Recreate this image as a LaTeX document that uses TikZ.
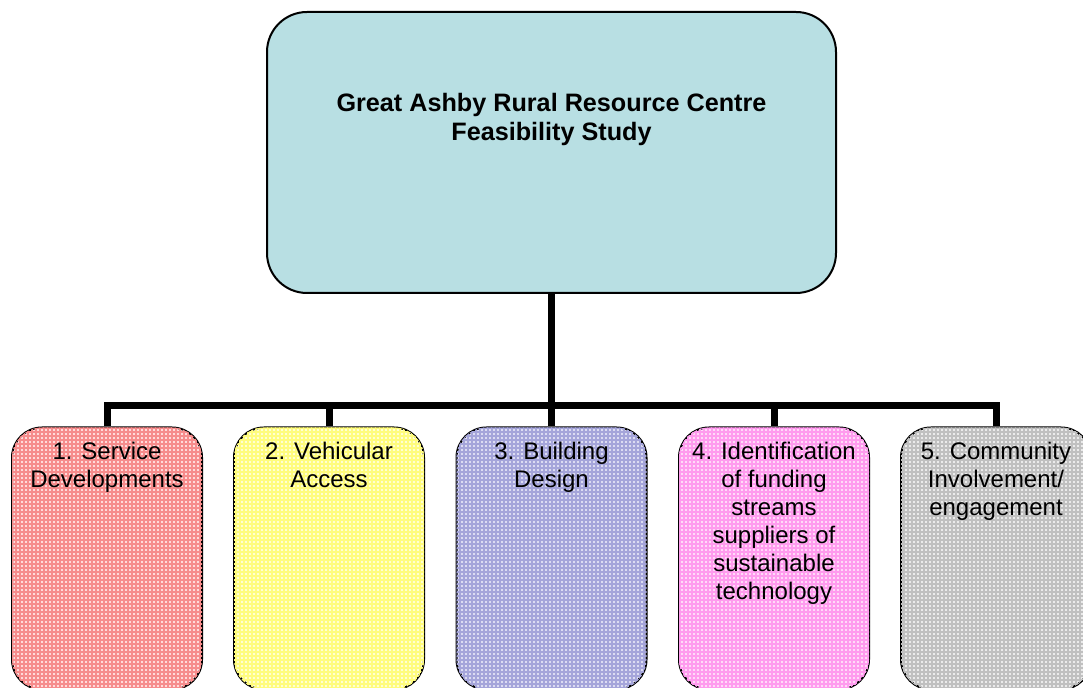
\documentclass[tikz,border=0pt]{standalone}
\usepackage{fontspec}
\setmainfont{Liberation Sans}
\usetikzlibrary{positioning, patterns, calc}

\definecolor{studyblue}{RGB}{184,223,227}
\definecolor{redbase}{RGB}{255,218,218}
\definecolor{redline}{RGB}{246,140,140}
\definecolor{yellowbase}{RGB}{255,255,210}
\definecolor{yellowline}{RGB}{255,252,125}
\definecolor{bluebase}{RGB}{220,220,242}
\definecolor{blueline}{RGB}{165,165,218}
\definecolor{pinkbase}{RGB}{255,218,248}
\definecolor{pinkline}{RGB}{255,155,238}
\definecolor{greybase}{RGB}{235,235,235}
\definecolor{greyline}{RGB}{192,192,192}

\pgfdeclarepatternformonly{finegrid}{\pgfqpoint{-0.5pt}{-0.5pt}}{\pgfqpoint{2pt}{2pt}}{\pgfqpoint{2pt}{2pt}}{
  \pgfsetlinewidth{0.6pt}
  \pgfpathmoveto{\pgfqpoint{0pt}{0pt}}\pgfpathlineto{\pgfqpoint{2pt}{0pt}}
  \pgfpathmoveto{\pgfqpoint{0pt}{0pt}}\pgfpathlineto{\pgfqpoint{0pt}{2pt}}
  \pgfusepath{stroke}}

\tikzset{
  studybox/.style={draw, line width=1pt, rounded corners=20pt, fill=studyblue,
    minimum width=284.5pt, minimum height=140.5pt, inner sep=0pt},
  taskbox/.style={draw, line width=1pt, rounded corners=15pt, fill=#1base,
    postaction={pattern=finegrid, pattern color=#1line},
    minimum width=95pt, minimum height=131pt, inner sep=0pt},
  link/.style={line width=3.5pt}
}

\begin{document}
\begin{tikzpicture}[x=0.5pt, y=-0.5pt]
  \useasboundingbox (0,0) rectangle (1083,688);
  \clip (0,0) rectangle (1083,688);

  % Nodes
  \node[studybox, label={[anchor=north, yshift=-37.5pt, align=center,
      font=\fontsize{12.6}{14.5}\selectfont\bfseries]north:Great Ashby Rural Resource Centre\\Feasibility Study}]
    (study) at (551.5,152.5) {};
  \coordinate (bus) at (551.5,406);

  \foreach \i/\x/\col/\txt in {
      1/107/red/{1. Service\\Developments},
      2/329/yellow/{2. Vehicular\\Access},
      3/551.5/blue/{3. Building\\Design},
      4/774/pink/{4. Identification\\of funding\\streams\\suppliers of\\sustainable\\technology},
      5/996/grey/{5. Community\\Involvement/\\engagement}}
    \node[taskbox=\col, label={[anchor=north, yshift=-4.5pt, align=center,
        font=\fontsize{12}{14}\selectfont]north:\txt}]
      (task\i) at (\x,558.5) {};

  % Connectors
  \draw[link] (study.south) -- (bus);
  \foreach \i in {1,...,5}
    \draw[link] (task\i.north) |- (bus);
\end{tikzpicture}
\end{document}
